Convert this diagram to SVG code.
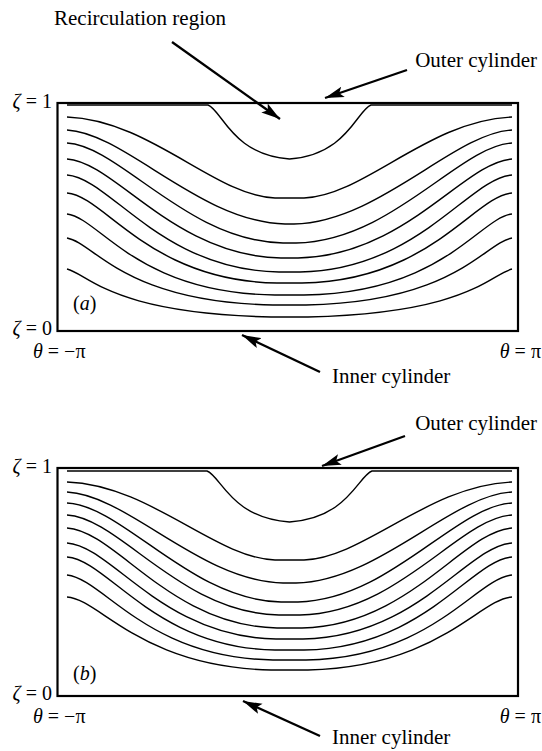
<svg xmlns="http://www.w3.org/2000/svg" width="542" height="751" viewBox="0 0 542 751">
<style>
.frame{fill:none;stroke:#000;stroke-width:2.2}
.c{fill:none;stroke:#000;stroke-width:1.4;stroke-linejoin:round}
.lbl{font-family:"Liberation Serif","Times New Roman",serif;font-size:21px;fill:#000}
.math{font-family:"Liberation Serif","Times New Roman",serif;font-size:20px;fill:#000}
.it{font-style:italic}
.arr{fill:none;stroke:#000;stroke-width:2.3;marker-end:url(#ah)}
</style>
<defs>
<marker id="ah" markerUnits="userSpaceOnUse" markerWidth="20" markerHeight="12" refX="19" refY="6" orient="auto">
<path d="M0,0.5 L19,6 L0,11.5 L4,6 z" fill="#000"/>
</marker>
</defs>
<rect width="542" height="751" fill="#fff"/>

<g id="panel-a">
<rect class="frame" x="57.5" y="103" width="460.5" height="228"/>
<g id="contours-a">
<path class="c" d="M67,105 L208,105 C222,110 232,155 289.5,159 C347,155 357,110 371,105 L512,105"/>
<path class="c" d="M67,117 C150,120 215,196 275,198 L304,198 C364,196 429,120 512,117"/>
<path class="c" d="M67,130 C125,133 200,222 285,224 L294,224 C379,222 454,133 512,130"/>
<path class="c" d="M67,143 C120,146 187,241 283,243 L296,243 C392,241 459,146 512,143"/>
<path class="c" d="M67,159 C115,162 174,256 281,258 L298,258 C405,256 464,162 512,159"/>
<path class="c" d="M67,175 C110,178 161,270 279,272 L300,272 C418,270 469,178 512,175"/>
<path class="c" d="M67,193 C105,196 149,281 277,283 L302,283 C430,281 474,196 512,193"/>
<path class="c" d="M67,214 C100,218 136,293 275,295 L304,295 C443,293 479,218 512,214"/>
<path class="c" d="M67,238 C95,243 123,302 273,305 L306,305 C456,302 484,243 512,238"/>
<path class="c" d="M67,269 C90,275 110,313 271,317 L308,317 C469,313 489,275 512,269"/>
</g>
<text class="math" x="73" y="310">(<tspan class="it">a</tspan>)</text>
<text class="math" x="52" y="108" text-anchor="end"><tspan class="it">ζ</tspan> = 1</text>
<text class="math" x="52" y="335" text-anchor="end"><tspan class="it">ζ</tspan> = 0</text>
<text class="math" x="33" y="358"><tspan class="it">θ</tspan> = −π</text>
<text class="math" x="541" y="358" text-anchor="end"><tspan class="it">θ</tspan> = π</text>
</g>

<g id="panel-b" transform="translate(0,365)">
<rect class="frame" x="57.5" y="103" width="460.5" height="228"/>
<g id="contours-b">
<path class="c" d="M67,106 L207,106 C221,111 231,153 289.5,157 C348,153 358,111 372,106 L512,106"/>
<path class="c" d="M67,117 C150,120 215,193 275,195 L304,195 C364,193 429,120 512,117"/>
<path class="c" d="M67,127 C128,130 200,216 283,218 L296,218 C379,216 451,130 512,127"/>
<path class="c" d="M67,138 C124,141 190,235 281,237 L298,237 C389,235 455,141 512,138"/>
<path class="c" d="M67,150 C120,153 180,248 279,250 L300,250 C399,248 459,153 512,150"/>
<path class="c" d="M67,163 C116,166 170,261 277,263 L302,263 C409,261 463,166 512,163"/>
<path class="c" d="M67,178 C112,181 162,272 276,274 L303,274 C417,272 467,181 512,178"/>
<path class="c" d="M67,192 C108,195 155,283 275,285 L304,285 C424,283 471,195 512,192"/>
<path class="c" d="M67,210 C104,214 147,293 273,295 L306,295 C432,293 475,214 512,210"/>
<path class="c" d="M67,232 C100,234 140,302 271,305 L308,305 C439,302 479,234 512,232"/>
</g>
<text class="math" x="73" y="315">(<tspan class="it">b</tspan>)</text>
<text class="math" x="52" y="108" text-anchor="end"><tspan class="it">ζ</tspan> = 1</text>
<text class="math" x="52" y="335" text-anchor="end"><tspan class="it">ζ</tspan> = 0</text>
<text class="math" x="33" y="358"><tspan class="it">θ</tspan> = −π</text>
<text class="math" x="541" y="358" text-anchor="end"><tspan class="it">θ</tspan> = π</text>
</g>

<g id="label-recirculation"><text class="lbl" x="54" y="25">Recirculation region</text></g>
<g id="label-outer-a"><text class="lbl" x="537" y="67" text-anchor="end">Outer cylinder</text></g>
<g id="label-inner-a"><text class="lbl" x="332" y="383">Inner cylinder</text></g>
<g id="label-outer-b"><text class="lbl" x="537" y="430" text-anchor="end">Outer cylinder</text></g>
<g id="label-inner-b"><text class="lbl" x="332" y="744">Inner cylinder</text></g>

<g id="connectors">
<path class="arr" d="M172,42 L280,119"/>
<path class="arr" d="M407,70 L325,98"/>
<path class="arr" d="M320,372 L242,335"/>
<path class="arr" d="M405,436 L322,466"/>
<path class="arr" d="M320,736 L243,701"/>
</g>
</svg>
